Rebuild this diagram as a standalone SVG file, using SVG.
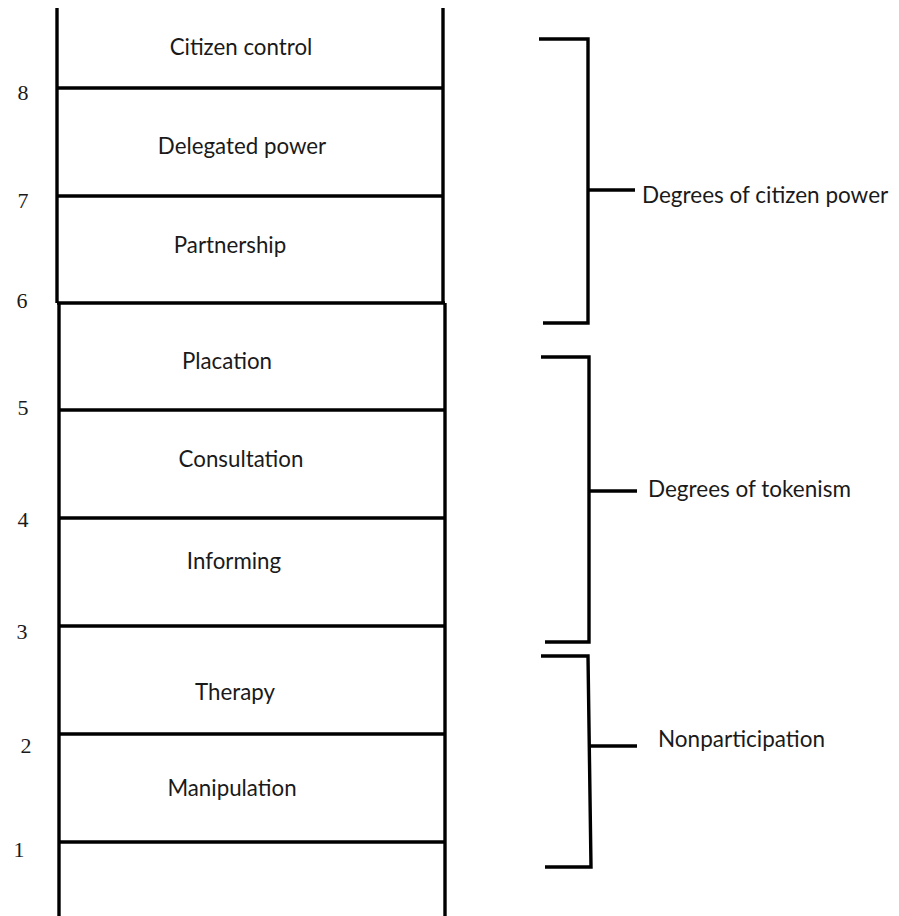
<svg xmlns="http://www.w3.org/2000/svg" width="899" height="916" viewBox="0 0 899 916">
  <style>
    .rail { stroke: #000; stroke-width: 3.4; fill: none; }
    .rung { stroke: #000; stroke-width: 3.4; fill: none; }
    .brace { stroke: #000; stroke-width: 3.4; fill: none; stroke-linecap: butt; stroke-linejoin: miter; }
    .label { font-family: "Lato", "Open Sans", sans-serif; font-size: 22.3px; fill: #1a1a1a; text-anchor: middle; }
    .num { font-family: "Liberation Serif", "Times New Roman", serif; font-size: 22px; fill: #1a1a1a; text-anchor: middle; }
    .group-label { font-family: "Lato", "Open Sans", sans-serif; font-size: 22.5px; fill: #1a1a1a; }
  </style>
  <rect width="899" height="916" fill="#fff"/>

  <!-- ladder rails and rungs -->
  <g id="connectors">
    <line class="rail" x1="57" y1="8" x2="57" y2="303"/>
    <line class="rail" x1="443" y1="8" x2="443" y2="303"/>
    <line class="rail" x1="59" y1="303" x2="59" y2="916"/>
    <line class="rail" x1="445" y1="303" x2="445" y2="916"/>

    <line class="rung" x1="57" y1="88" x2="443" y2="88"/>
    <line class="rung" x1="57" y1="196" x2="443" y2="196"/>
    <line class="rung" x1="57" y1="303" x2="445" y2="303"/>
    <line class="rung" x1="59" y1="410" x2="445" y2="410"/>
    <line class="rung" x1="59" y1="518" x2="445" y2="518"/>
    <line class="rung" x1="59" y1="626" x2="445" y2="626"/>
    <line class="rung" x1="59" y1="734" x2="445" y2="734"/>
    <line class="rung" x1="59" y1="842" x2="445" y2="842"/>
  </g>

  <!-- rung numbers -->
  <g id="numbers">
    <text class="num" x="23" y="100">8</text>
    <text class="num" x="23" y="208">7</text>
    <text class="num" x="22" y="308">6</text>
    <text class="num" x="23" y="415">5</text>
    <text class="num" x="23" y="527">4</text>
    <text class="num" x="22" y="639">3</text>
    <text class="num" x="26" y="753">2</text>
    <text class="num" x="19" y="857">1</text>
  </g>

  <!-- rungs of participation -->
  <g id="citizen-control"><text class="label" x="241" y="55">Citizen control</text></g>
  <g id="delegated-power"><text class="label" x="242" y="154">Delegated power</text></g>
  <g id="partnership"><text class="label" x="230" y="253">Partnership</text></g>
  <g id="placation"><text class="label" x="227" y="369">Placation</text></g>
  <g id="consultation"><text class="label" x="241" y="467">Consultation</text></g>
  <g id="informing"><text class="label" x="234" y="569">Informing</text></g>
  <g id="therapy"><text class="label" x="235" y="700">Therapy</text></g>
  <g id="manipulation"><text class="label" x="232" y="796">Manipulation</text></g>

  <!-- grouping braces -->
  <g id="citizen-power">
    <polyline class="brace" points="539,39 588,39 588,323 543,323"/>
    <line class="brace" x1="588" y1="190" x2="635" y2="190"/>
    <text class="group-label" x="642" y="203">Degrees of citizen power</text>
  </g>
  <g id="tokenism">
    <polyline class="brace" points="541,357 589,357 589,642 545,642"/>
    <line class="brace" x1="589" y1="491" x2="637" y2="491"/>
    <text class="group-label" x="648" y="497">Degrees of tokenism</text>
  </g>
  <g id="nonparticipation">
    <polyline class="brace" points="541,656 588,656 591,867 545,867"/>
    <line class="brace" x1="590" y1="746" x2="637" y2="746"/>
    <text class="group-label" x="658" y="747">Nonparticipation</text>
  </g>
</svg>
